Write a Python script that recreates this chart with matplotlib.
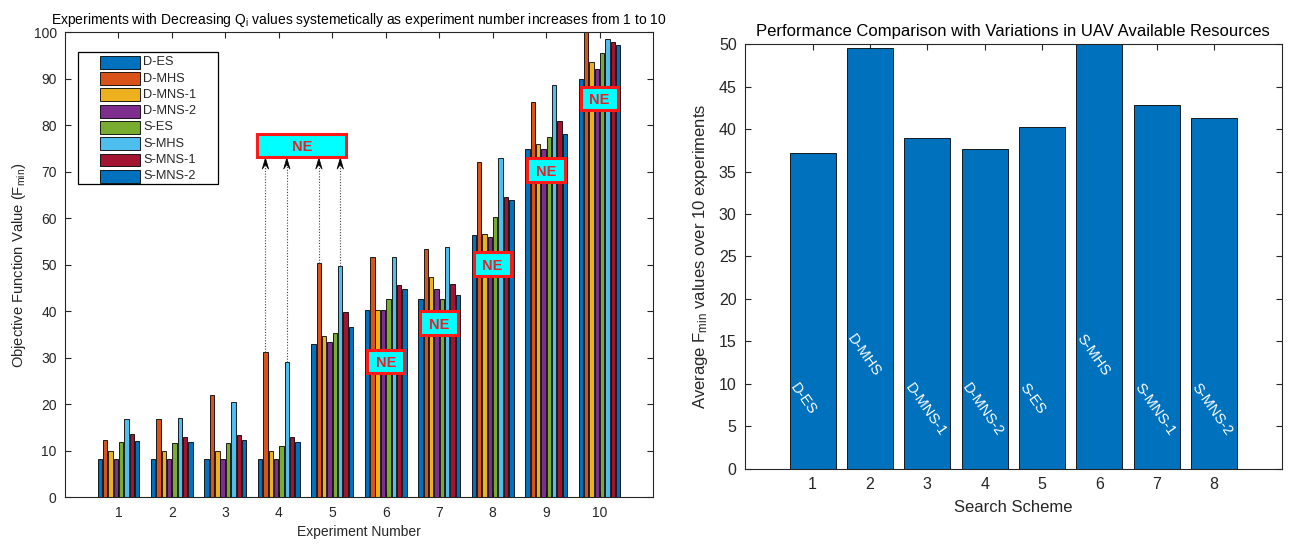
import matplotlib
matplotlib.use("Agg")
import matplotlib.pyplot as plt
import numpy as np
from matplotlib.patches import Rectangle, Polygon

plt.rcParams['font.family'] = ['Liberation Sans', 'DejaVu Sans']
plt.rcParams['mathtext.fontset'] = 'custom'
plt.rcParams['mathtext.rm'] = 'Liberation Sans'
plt.rcParams['mathtext.it'] = 'Liberation Sans:italic'

# ---- data -------------------------------------------------------------
experiments = [1, 2, 3, 4, 5, 6, 7, 8, 9, 10]
schemes = ['D-ES', 'D-MHS', 'D-MNS-1', 'D-MNS-2', 'S-ES', 'S-MHS', 'S-MNS-1', 'S-MNS-2']

d_es    = [8.3, 8.3, 8.3, 8.3, 33.0, 40.4, 42.7, 56.4, 75.0, 90.0]
d_mhs   = [12.3, 16.8, 22.1, 31.2, 50.4, 51.6, 53.5, 72.1, 85.0, 100.5]
d_mns_1 = [10.0, 10.0, 10.0, 10.0, 34.8, 40.4, 47.5, 56.6, 76.0, 93.7]
d_mns_2 = [8.3, 8.3, 8.3, 8.3, 33.4, 40.4, 44.8, 56.1, 75.0, 92.2]
s_es    = [11.9, 11.7, 11.7, 11.0, 35.3, 42.7, 42.7, 60.2, 77.5, 95.6]
s_mhs   = [16.8, 17.1, 20.4, 29.1, 49.8, 51.6, 53.8, 73.1, 88.8, 98.5]
s_mns_1 = [13.6, 13.0, 13.4, 13.0, 39.8, 45.6, 45.9, 64.5, 81.0, 97.9]
s_mns_2 = [12.1, 11.9, 12.3, 11.9, 36.6, 44.8, 43.6, 64.0, 78.1, 97.3]

series = [d_es, d_mhs, d_mns_1, d_mns_2, s_es, s_mhs, s_mns_1, s_mns_2]

scheme_ids = [1, 2, 3, 4, 5, 6, 7, 8]
avg_fmin = [37.2, 49.55, 39.0, 37.66, 40.2, 50.4, 42.85, 41.35]

# experiments where no equilibrium was reached, and where the tag sits
ne_experiments = [6, 7, 8, 9, 10]
ne_levels = [29.3, 37.5, 50.2, 70.4, 85.8]

# ---- styling ----------------------------------------------------------
colors = ['#0072BD', '#D95319', '#EDB120', '#7E2F8E',
          '#77AC30', '#4DBEEE', '#A2142F', '#0072BD']
axis_col = '#262626'

fig = plt.figure(figsize=(12.92, 5.44), dpi=100)


def matlab_axes(ax, fs):
    for s in ax.spines.values():
        s.set_color(axis_col)
        s.set_linewidth(0.8)
    ax.tick_params(direction='in', top=True, right=True, length=4,
                   width=0.8, color=axis_col, labelcolor=axis_col,
                   labelsize=fs, pad=6)


# ---- left: grouped bars per experiment --------------------------------
ax1 = fig.add_axes([0.0503, 0.0858, 0.4551, 0.8545])
n = len(series)
slot = 0.8 / n
x = np.array(experiments, dtype=float)
for i, (vals, name, c) in enumerate(zip(series, schemes, colors)):
    ax1.bar(x + (i - (n - 1) / 2) * slot, vals, width=slot * 0.82,
            color=c, edgecolor='black', linewidth=0.6, label=name, zorder=2)

ax1.set_xlim(0, 11)
ax1.set_ylim(0, 100)
ax1.set_xticks(experiments)
ax1.set_yticks(np.arange(0, 101, 10))
matlab_axes(ax1, 10)
ax1.set_title('Experiments with Decreasing Q$_\\mathregular{i}$ values systemetically '
              'as experiment number increases from 1 to 10',
              fontsize=10, color='black', pad=6)
ax1.set_xlabel('Experiment Number', fontsize=10, color=axis_col, labelpad=4)
ax1.set_ylabel('Objective Function Value (F$_\\mathregular{min}$)', fontsize=10.6,
               color=axis_col, labelpad=4)

# legend box drawn in axes coordinates
tA = ax1.transAxes
ax1.add_patch(Rectangle((0.0221, 0.673), 0.2381, 0.284, transform=tA,
                        facecolor='white', edgecolor='black', linewidth=0.9,
                        zorder=7))
row0, row_step = 0.936, 0.0351
for i, (name, c) in enumerate(zip(schemes, colors)):
    yc = row0 - i * row_step
    ax1.add_patch(Rectangle((0.0595, yc - 0.0137), 0.068, 0.0274, transform=tA,
                            facecolor=c, edgecolor='black', linewidth=0.6,
                            zorder=8))
    ax1.text(0.1327, yc, name, transform=tA, ha='left', va='center',
             fontsize=9.2, color=axis_col, zorder=8)


def ne_box(ax, xc, yc, w, h):
    ax.add_patch(Rectangle((xc - w / 2, yc - h / 2), w, h, facecolor='#00FFFF',
                           edgecolor='#FF1A1A', linewidth=2.2, zorder=5))
    ax.text(xc, yc - 0.4, 'NE', color='#E8202A', fontsize=10.5,
            fontweight='bold', ha='center', va='center', zorder=6)


for e, lvl in zip(ne_experiments, ne_levels):
    ne_box(ax1, e, lvl, 0.7, 5.0)

# shared tag above experiments 4 and 5 with dotted pointers from MHS bars
big_x, big_y, big_w, big_h = 4.43, 75.7, 1.66, 5.0
ne_box(ax1, big_x, big_y, big_w, big_h)
box_bottom = big_y - big_h / 2
mhs_idx = [schemes.index('D-MHS'), schemes.index('S-MHS')]
for e in [4, 5]:
    for k in mhs_idx:
        xb = e + (k - (n - 1) / 2) * slot
        yb = series[k][e - 1]
        ax1.plot([xb, xb], [yb, box_bottom - 1.3], linestyle=(0, (1, 1.5)),
                 color='#444444', linewidth=0.8, zorder=4)
        ax1.add_patch(Polygon([[xb, box_bottom - 0.2],
                               [xb - 0.06, box_bottom - 2.6],
                               [xb, box_bottom - 1.6],
                               [xb + 0.06, box_bottom - 2.6]],
                              closed=True, facecolor='black',
                              edgecolor='black', linewidth=0.5, zorder=4))

# ---- right: average Fmin per search scheme ----------------------------
ax2 = fig.add_axes([0.5766, 0.1384, 0.4154, 0.7802])
ax2.bar(scheme_ids, avg_fmin, width=0.8, color='#0072BD',
        edgecolor='black', linewidth=0.6, zorder=2)
ax2.set_xlim(-0.18, 9.18)
ax2.set_ylim(0, 50)
ax2.set_xticks(scheme_ids)
ax2.set_yticks(np.arange(0, 51, 5))
matlab_axes(ax2, 11.5)
ax2.set_title('Performance Comparison with Variations in UAV Available Resources',
              fontsize=12, color='black', pad=6)
ax2.set_xlabel('Search Scheme', fontsize=12, color=axis_col, labelpad=6)
ax2.set_ylabel('Average F$_\\mathregular{min}$ values over 10 experiments',
               fontsize=12, color=axis_col, labelpad=6)

for sid, name in zip(scheme_ids, schemes):
    y0 = 16.1 if 'MHS' in name else 10.4
    ax2.text(sid - 0.24, y0, name, rotation=-55, rotation_mode='anchor',
             ha='left', va='top', color='white', fontsize=10.5, zorder=3)

fig.savefig('out.png', dpi=100)
